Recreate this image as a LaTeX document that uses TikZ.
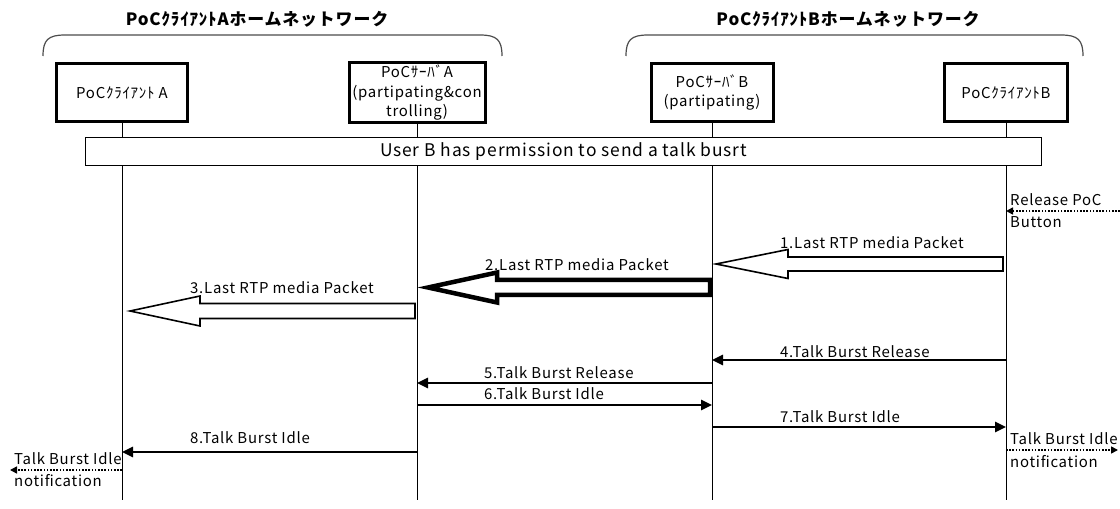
\documentclass[tikz,border=0pt]{standalone}
\usepackage{fontspec}
\setmainfont{Noto Sans CJK JP}[LetterSpace=5]
\usetikzlibrary{arrows.meta,calc}
\begin{document}
\begin{tikzpicture}[x=1bp,y=-1bp,
  actor/.style={draw,line width=3bp,minimum height=58bp,inner sep=2bp,align=center,
    font=\fontsize{15}{19.5}\selectfont},
  life/.style={line width=1bp},
  msg/.style={line width=2.5bp,-{Triangle[length=11bp,width=10bp]}},
  lbl/.style={anchor=west,inner sep=0pt,font=\fontsize{15}{17}\selectfont},
  block/.style={draw,line width=1.6bp,fill=white,line join=miter},
  note/.style={line width=1.6bp,dash pattern=on 1.6bp off 1.6bp,-{Triangle[length=7bp,width=7bp]}},
  brace/.style={line width=1.2bp,draw=black!70},
  title/.style={font=\bfseries\fontsize{17}{19}\selectfont},
]
\useasboundingbox (0,0) rectangle (1120,509);

% network titles and brackets
\node[title] (ta) at (257,19) {PoCｸﾗｲｱﾝﾄAホームネットワーク};
\node[title] (tb) at (848,19) {PoCｸﾗｲｱﾝﾄBホームネットワーク};
\draw[brace] (43,56) .. controls (43,40) and (48,35) .. (65,35) -- (480,35)
  .. controls (497,35) and (502,40) .. (502,56);
\draw[brace] (626,56) .. controls (626,40) and (631,35) .. (648,35) -- (1061,35)
  .. controls (1078,35) and (1083,40) .. (1083,56);

% participants
\node[actor,minimum width=130bp] (ca) at (122,92.5) {PoCｸﾗｲｱﾝﾄ A};
\node[actor,minimum width=136bp] (sa) at (417,92.5) {PoCｻｰﾊﾞA\\(partipating\&con\\trolling)};
\node[actor,minimum width=122bp] (sb) at (712,92.5) {PoCｻｰﾊﾞB\\(partipating)};
\node[actor,minimum width=123bp] (cb) at (1006,92.5) {PoCｸﾗｲｱﾝﾄB};

% lifelines
\foreach \p in {ca,sa,sb,cb}
  \draw[life] (\p.south) -- (\p.south |- 0,500);

% floor condition
\node[draw,line width=1bp,fill=white,minimum width=955bp,minimum height=28bp,
  font=\fontsize{17.5}{19}\selectfont] (floor) at (563.5,151.5)
  {User B has permission to send a talk busrt};

% button release
\coordinate (rel) at (1120,211);
\draw[note] (rel) -- (cb.south |- rel);
\node[lbl] (relt) at (1010,200) {Release PoC};
\node[lbl] (relb) at (1010,222) {Button};

% 1. last RTP packet, B client -> B server
\draw[block] ($(sb.south |- 0,264)+(4,0)$) -- ++(72,-14.5) -- ++(0,7.5)
  -- ($(cb.south |- 0,257)+(-3,0)$) -- ($(cb.south |- 0,271)+(-3,0)$)
  -- ($(sb.south |- 0,271)+(76,0)$) -- ++(0,7.5) -- cycle;
\node[lbl] (l1) at (780,243) {1.Last RTP media Packet};

% 2. last RTP packet, B server -> A server
\draw[block,line width=4.5bp] ($(sa.south |- 0,287.5)+(11,0)$) -- ++(69,-15) -- ++(0,7.5)
  -- ($(sb.south |- 0,280)+(-2,0)$) -- ($(sb.south |- 0,295)+(-2,0)$)
  -- ($(sa.south |- 0,295)+(80,0)$) -- ++(0,7.5) -- cycle;
\node[lbl] (l2) at (485,265) {2.Last RTP media Packet};

% 3. last RTP packet, A server -> A client
\draw[block] ($(ca.south |- 0,311)+(8,0)$) -- ++(70,-15) -- ++(0,7.5)
  -- ($(sa.south |- 0,303.5)+(-2,0)$) -- ($(sa.south |- 0,318.5)+(-2,0)$)
  -- ($(ca.south |- 0,318.5)+(78,0)$) -- ++(0,7.5) -- cycle;
\node[lbl] (l3) at (190,288) {3.Last RTP media Packet};

% talk burst release / idle
\draw[msg] (cb.south |- 0,360) -- (sb.south |- 0,360);
\node[lbl] (l4) at (780,352) {4.Talk Burst Release};
\draw[msg] (sb.south |- 0,383) -- (sa.south |- 0,383);
\node[lbl] (l5) at (484,373) {5.Talk Burst Release};
\draw[msg] (sa.south |- 0,405) -- (sb.south |- 0,405);
\node[lbl] (l6) at (484,394) {6.Talk Burst Idle};
\draw[msg] (sb.south |- 0,427) -- (cb.south |- 0,427);
\node[lbl] (l7) at (780,417) {7.Talk Burst Idle};
\draw[msg] (sa.south |- 0,452) -- (ca.south |- 0,452);
\node[lbl] (l8) at (190,438) {8.Talk Burst Idle};

% idle notifications
\coordinate (nb) at (1118,450);
\draw[note] (cb.south |- nb) -- (nb);
\node[lbl] (nbt) at (1010,439) {Talk Burst Idle};
\node[lbl] (nbb) at (1010,462) {notification};
\coordinate (na) at (10,470);
\draw[note] (ca.south |- na) -- (na);
\node[lbl] (nat) at (14,459) {Talk Burst Idle};
\node[lbl] (nab) at (14,481) {notification};
\end{tikzpicture}
\end{document}
